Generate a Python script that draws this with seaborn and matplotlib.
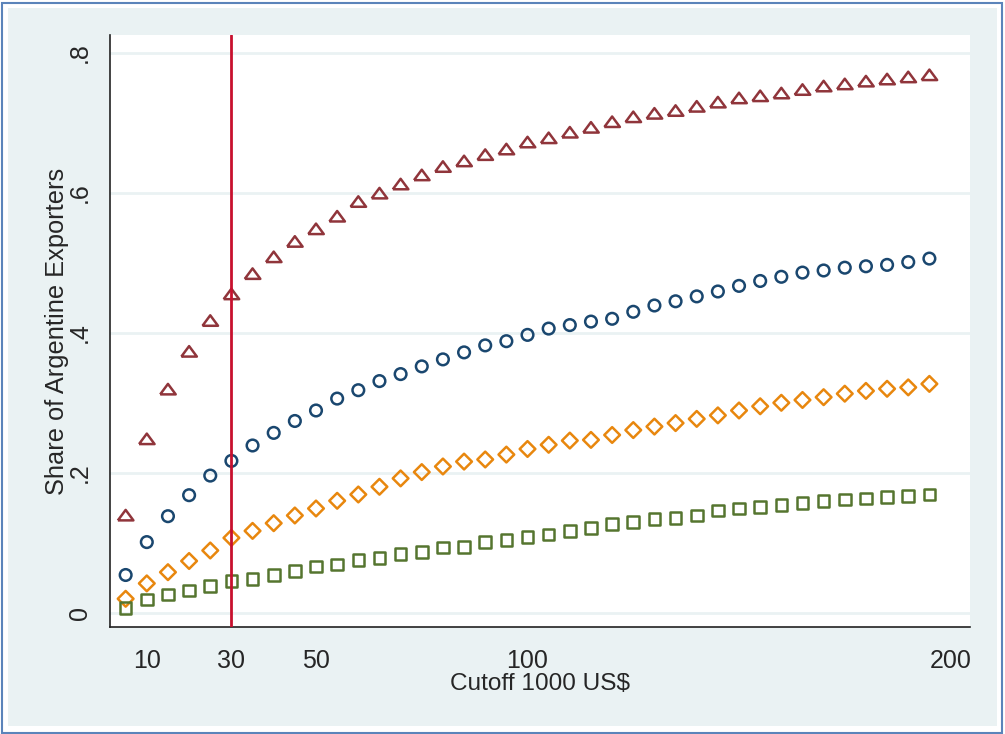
import matplotlib
matplotlib.use('Agg')
import matplotlib.pyplot as plt
import numpy as np
import pandas as pd
import seaborn as sns
from matplotlib.patches import Rectangle

# cutoff values (1000 US$)
cutoff = list(range(5, 200, 5))

share_tri = [0.137, 0.246, 0.317, 0.371, 0.415, 0.453, 0.482, 0.506, 0.528, 0.546,
             0.564, 0.585, 0.597, 0.610, 0.623, 0.635, 0.643, 0.652, 0.660, 0.670,
             0.676, 0.684, 0.691, 0.699, 0.706, 0.711, 0.715, 0.721, 0.727, 0.733,
             0.736, 0.740, 0.745, 0.750, 0.753, 0.757, 0.760, 0.763, 0.766]
share_circ = [0.054, 0.101, 0.138, 0.168, 0.196, 0.217, 0.239, 0.257, 0.274, 0.289,
              0.306, 0.318, 0.331, 0.341, 0.352, 0.362, 0.372, 0.382, 0.388, 0.397,
              0.406, 0.411, 0.416, 0.420, 0.430, 0.439, 0.445, 0.452, 0.459, 0.467,
              0.474, 0.480, 0.486, 0.489, 0.493, 0.495, 0.497, 0.501, 0.506]
share_diam = [0.020, 0.042, 0.058, 0.074, 0.089, 0.107, 0.117, 0.128, 0.139, 0.149,
              0.160, 0.169, 0.180, 0.192, 0.201, 0.209, 0.216, 0.219, 0.226, 0.234,
              0.240, 0.246, 0.247, 0.254, 0.261, 0.266, 0.271, 0.277, 0.282, 0.289,
              0.295, 0.300, 0.304, 0.308, 0.313, 0.317, 0.320, 0.322, 0.327]
share_sq = [0.007, 0.019, 0.026, 0.032, 0.038, 0.045, 0.048, 0.054, 0.060, 0.066,
            0.069, 0.075, 0.078, 0.084, 0.087, 0.093, 0.094, 0.101, 0.104, 0.108,
            0.112, 0.117, 0.121, 0.127, 0.130, 0.134, 0.135, 0.139, 0.146, 0.149,
            0.151, 0.154, 0.157, 0.160, 0.162, 0.163, 0.165, 0.167, 0.169]

x_ticks = [10, 30, 50, 100, 200]
y_ticks = [0, 0.2, 0.4, 0.6, 0.8]
y_tick_labels = ['0', '.2', '.4', '.6', '.8']
cutoff_line = 30

sns.set_style('white')
plt.rcParams['font.family'] = ['Liberation Sans', 'DejaVu Sans']

fig = plt.figure(figsize=(10.05, 7.34), dpi=100, facecolor='white')
# stata-like outer frame, kept behind the axes
fig.patches.append(Rectangle((8 / 1005, 8 / 734), 989 / 1005, 718 / 734,
                             transform=fig.transFigure, facecolor='#EAF2F3',
                             edgecolor='none', zorder=-2))
fig.patches.append(Rectangle((2 / 1005, 1.5 / 734), 1000 / 1005, 730 / 734,
                             transform=fig.transFigure, facecolor='none',
                             edgecolor='#5B84BA', linewidth=1.5, zorder=-1))

ax = fig.add_axes([110 / 1005, 107 / 734, 860 / 1005, 592 / 734])
ax.set_zorder(2)
ax.set_facecolor('white')

# flat stata-style triangle
tri = [(-1, -0.45), (1, -0.45), (0, 0.9), (-1, -0.45)]
series = [
    (share_tri, '#90353B', tri, 125),
    (share_circ, '#1A476F', 'o', 70),
    (share_diam, '#E8870E', 'D', 64),
    (share_sq, '#55752F', 's', 70),
]
for vals, col, mk, size in series:
    df = pd.DataFrame({'cutoff': cutoff, 'share': vals})
    sns.scatterplot(data=df, x='cutoff', y='share', ax=ax, marker=mk, s=size,
                    color=col, facecolor='none', edgecolor=col, linewidth=1.8,
                    zorder=3)

ax.axvline(cutoff_line, color='#C8102E', linewidth=2.0, zorder=4)

ax.set_xlim(1.3, 204.6)
ax.set_ylim(-0.0203, 0.8254)
ax.set_xticks(x_ticks)
ax.set_yticks(y_ticks)
ax.set_yticklabels(y_tick_labels, rotation=90, va='center')
ax.tick_params(axis='both', labelsize=18, length=8, width=1, color='#333333',
               direction='out')
ax.tick_params(axis='x', pad=8)
ax.tick_params(axis='y', pad=5)
ax.grid(axis='y', color='#EAF2F3', linewidth=2)
ax.set_axisbelow(True)
ax.set_xlabel('Cutoff 1000 US$', fontsize=17.6, labelpad=0)
ax.set_ylabel('Share of Argentine Exporters', fontsize=18.3, labelpad=-1)

for s in ['left', 'bottom']:
    ax.spines[s].set_linewidth(1.2)
    ax.spines[s].set_color('#222222')
for s in ['top', 'right']:
    ax.spines[s].set_visible(False)

plt.savefig('out.png', dpi=100)
plt.close()
